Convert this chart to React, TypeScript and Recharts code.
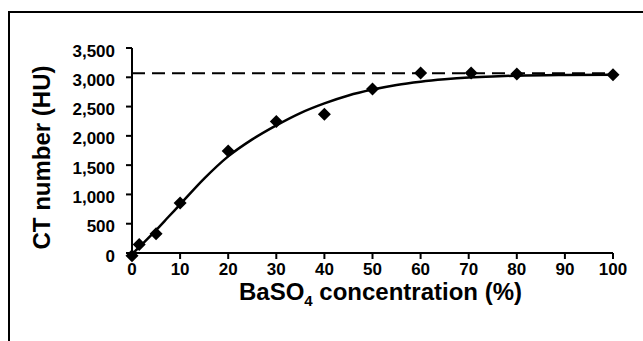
import { ComposedChart, Line, Scatter, XAxis, YAxis, ReferenceLine, Label } from 'recharts';

// measured points (BaSO4 %, CT number HU)
const pointX = [0, 1.5, 5, 10, 20, 30, 40, 50, 60, 70.5, 80, 100];
const pointY = [-45, 145, 330, 855, 1740, 2245, 2370, 2800, 3075, 3075, 3055, 3045];

// fitted curve
const curveX = [0, 2.5, 5, 7.5, 10, 15, 20, 25, 30, 35, 40, 45, 50, 55, 60, 65, 70, 75, 80, 90, 100];
const curveY = [-20, 180, 390, 610, 830, 1270, 1650, 1940, 2180, 2390, 2555, 2690, 2790, 2870, 2925, 2965, 2995, 3015, 3028, 3040, 3045];

const xTicks = [0, 10, 20, 30, 40, 50, 60, 70, 80, 90, 100];
const yTicks = [0, 500, 1000, 1500, 2000, 2500, 3000, 3500];
const plateau = 3070;

const points = pointX.map((x, i) => ({ x, y: pointY[i] }));
const curve = curveX.map((x, i) => ({ x, y: curveY[i] }));

const FONT = '"Liberation Sans", Arial, sans-serif';

const Diamond = (props: any) => {
  const { cx, cy } = props;
  const r = 6.5;
  return <path d={`M${cx},${cy - r}L${cx + r},${cy}L${cx},${cy + r}L${cx - r},${cy}Z`} fill="#000" />;
};

const YTick = (props: any) => {
  const { x, y, payload } = props;
  return (
    <text x={x} y={y} dy={3} textAnchor="end" dominantBaseline="central" fontFamily={FONT} fontWeight="bold" fontSize={17} fill="#000">
      {payload.value.toLocaleString('en-US')}
    </text>
  );
};

const XTick = (props: any) => {
  const { x, y, payload } = props;
  return (
    <text x={x} y={y} dy="0.71em" textAnchor="middle" fontFamily={FONT} fontWeight="bold" fontSize={17} fill="#000">
      {payload.value}
    </text>
  );
};

export default function App() {
  return (
    <div style={{ position: 'absolute', left: 0, top: 0, width: 643, height: 341, background: '#fff', overflow: 'hidden' }}>
      <style>{`.recharts-scatter, .recharts-scatter * { clip-path: none !important; }`}</style>
      <div
        style={{
          position: 'absolute',
          left: 8,
          top: 11,
          right: 0,
          bottom: 0,
          borderLeft: '2px solid #000',
          borderTop: '2px solid #000',
        }}
      />
      <div style={{ position: 'absolute', left: 0, top: 0 }}>
        <ComposedChart width={643} height={341} margin={{ top: 48, right: 30, bottom: 0, left: 0 }}>
          <XAxis
            dataKey="x"
            type="number"
            domain={[0, 100]}
            ticks={xTicks}
            allowDataOverflow
            height={88}
            tickSize={6}
            tickMargin={4}
            axisLine={{ stroke: '#000', strokeWidth: 2 }}
            tickLine={{ stroke: '#000', strokeWidth: 2 }}
            tick={<XTick />}
          >
            <Label
              content={(p: any) => {
                const vb = p.viewBox;
                return (
                  <text
                    x={vb.x + vb.width / 2 + 8}
                    y={vb.y + 47}
                    textAnchor="middle"
                    fontFamily={FONT}
                    fontWeight="bold"
                    fontSize={24}
                    fill="#000"
                  >
                    BaSO
                    <tspan fontSize={15} dy={6}>4</tspan>
                    <tspan dy={-6}> concentration (%)</tspan>
                  </text>
                );
              }}
            />
          </XAxis>
          <YAxis
            dataKey="y"
            type="number"
            domain={[0, 3500]}
            ticks={yTicks}
            allowDataOverflow
            width={132}
            tickSize={6}
            tickMargin={11}
            axisLine={{ stroke: '#000', strokeWidth: 2 }}
            tickLine={{ stroke: '#000', strokeWidth: 2 }}
            tick={<YTick />}
          >
            <Label
              content={(p: any) => {
                const vb = p.viewBox;
                const cy = vb.y + vb.height / 2 + 7;
                return (
                  <text
                    x={50}
                    y={cy}
                    transform={`rotate(-90 50 ${cy})`}
                    textAnchor="middle"
                    fontFamily={FONT}
                    fontWeight="bold"
                    fontSize={24}
                    fill="#000"
                  >
                    CT number (HU)
                  </text>
                );
              }}
            />
          </YAxis>
          <ReferenceLine y={plateau} stroke="#000" strokeWidth={2} strokeDasharray="13 7" />
          <Line
            data={curve}
            dataKey="y"
            type="monotone"
            stroke="#000"
            strokeWidth={2.5}
            dot={false}
            activeDot={false}
            isAnimationActive={false}
          />
          <Scatter data={points} dataKey="y" fill="#000" shape={<Diamond />} isAnimationActive={false} />
        </ComposedChart>
      </div>
    </div>
  );
}
